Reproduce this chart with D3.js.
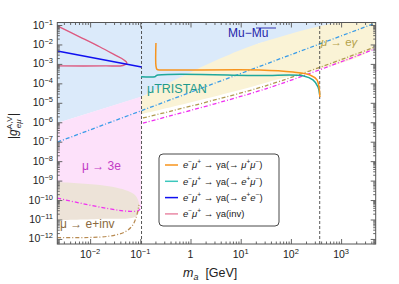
<!DOCTYPE html>
<html>
<head>
<meta charset="utf-8">
<script src="https://cdn.jsdelivr.net/npm/d3@7"></script>
<style>
body { margin: 0; background: #fff; }
text { font-family: "Liberation Sans", Arial, sans-serif; }
</style>
</head>
<body>
<div id="chart"></div>
<script>
// axis extents and ticks
const xDomain = [0.00222, 4890];
const yDomain = [5.5e-13, 0.1345];
const xMajor = [0.01, 0.1, 1, 10, 100, 1000];
const xLabels = [["10", "\u22122"], ["10", "\u22121"], ["1", ""], ["10", "1"], ["10", "2"], ["10", "3"]];
const yMajor = [1e-1, 1e-2, 1e-3, 1e-4, 1e-5, 1e-6, 1e-7, 1e-8, 1e-9, 1e-10, 1e-11, 1e-12];

// excluded regions (mass GeV, coupling)
const muMuBarEdge = [[0.00222, 9.1e-7], [0.103, 2.0e-5], [24, 0.0119], [4890, 0.14]];
const mu3eTop = [[0.00222, 9.1e-7], [0.1057, 2.1e-5]];
const mu3eBottom = [[0.00222, 1.27e-10], [0.09, 2.8e-11], [0.1057, 5.5e-11]];
const invTop = [[0.00222, 8.5e-10], [0.0157, 5.9e-10], [0.0496, 3.3e-10], [0.0784, 1.8e-10], [0.094, 7.1e-11]];
const invBottom = [[0.094, 2.4e-11], [0.0784, 1.35e-11], [0.0157, 1.07e-11], [0.00222, 9.4e-12]];
const megTop = [[0.1057, 2.0e-5], [24, 0.0119], [4890, 0.14]];
const megBottom = [[4890, 0.0085], [30.5, 1.04e-4], [0.1057, 2.6e-6]];

// bound lines
const cyanLine = [[0.00222, 9.5e-8], [4890, 0.127]];
const mu3eLine = [[0.00222, 1.27e-10], [0.09, 2.8e-11], [0.1057, 5.5e-11]];
const megMagenta = [[0.113, 9.1e-7], [30.5, 5.1e-5], [4730, 5.9e-3]];
const invLineLow = [[0.00222, 1.17e-12], [0.0157, 1.25e-12], [0.0313, 1.58e-12], [0.0496, 2.3e-12], [0.0684, 4.6e-12], [0.082, 1.2e-11], [0.094, 5.6e-11]];
const invLineHigh = [[0.113, 1.66e-6], [30.5, 7.3e-5], [4730, 7.4e-3]];
const vLines = [0.1057, 375];

// signal curves
const mumuCurve = [[0.205, 0.0119], [0.205, 8e-4], [0.215, 5.2e-4], [0.26, 4.9e-4], [24, 4.9e-4], [110, 3.8e-4], [240, 2.7e-4], [331, 1.5e-4], [365, 6e-5], [378, 2e-5]];
const eeMuCurve = [[0.103, 2.2e-4], [0.196, 2.2e-4], [0.215, 2.6e-4], [24, 2.5e-4], [180, 2.4e-4], [275, 1.5e-4], [347, 6.5e-5], [375, 2.5e-5]];
const eeCurve = [[0.00222, 4.6e-3], [0.1057, 6.9e-4]];
const invCurve = [[0.00222, 0.089], [0.0063, 0.024], [0.0158, 0.0074], [0.031, 0.0029], [0.0472, 1.6e-3], [0.054, 1.12e-3], [0.045, 8.3e-4], [0.02, 7.9e-4], [0.00222, 7.9e-4]];

const legendNames = [
  ["\u03bc", "+", "\u03bc", "\u2212"],
  ["e", "+", "\u03bc", "\u2212"],
  ["e", "+", "e", "\u2212"],
  null
];
const legendColors = ["#f7941d", "#3cc7bd", "#1010f0", "#e98aa6"];

const svg = d3.select("#chart").append("svg").attr("width", 399).attr("height", 284);

const x = d3.scaleLog().domain(xDomain).range([57.3, 375.7]);
const y = d3.scaleLog().domain(yDomain).range([244, 22.5]);

const line = d3.line().x(d => x(d[0])).y(d => y(d[1]));
const smooth = d3.line().x(d => x(d[0])).y(d => y(d[1])).curve(d3.curveCatmullRom.alpha(0.5));

svg.append("defs").append("clipPath").attr("id", "clip")
  .append("rect").attr("x", 57.3).attr("y", 22.5).attr("width", 318.4).attr("height", 221.5);
const plot = svg.append("g").attr("clip-path", "url(#clip)");

// regions
const topL = [xDomain[0], yDomain[1] * 2], topR = [xDomain[1] * 2, yDomain[1] * 2];
plot.append("path").attr("d", line([topL, topR, [xDomain[1] * 2, 0.14], ...muMuBarEdge.slice().reverse()]))
  .attr("fill", "#dbeafa");
plot.append("path").attr("d", line([...mu3eTop, ...mu3eBottom.slice().reverse()]))
  .attr("fill", "#fde1fa");
plot.append("path").attr("d", smooth([...invTop, ...invBottom]) + "Z")
  .attr("fill", "#ede3d8");
plot.append("path").attr("d", smooth([...megTop, ...megBottom]) + "Z")
  .attr("fill", "#faf3d6");

// dashed bounds
plot.append("path").attr("d", line(cyanLine)).attr("fill", "none")
  .attr("stroke", "#3a9ce8").attr("stroke-width", 1.3).attr("stroke-dasharray", "4,2,1,2");
plot.append("path").attr("d", smooth(mu3eLine)).attr("fill", "none")
  .attr("stroke", "#f030f0").attr("stroke-width", 1.3).attr("stroke-dasharray", "4,2,1,2");
plot.append("path").attr("d", smooth(megMagenta)).attr("fill", "none")
  .attr("stroke", "#f030f0").attr("stroke-width", 1.3).attr("stroke-dasharray", "4,2,1,2");
plot.append("path").attr("d", smooth(invLineLow)).attr("fill", "none")
  .attr("stroke", "#b88a50").attr("stroke-width", 1.2).attr("stroke-dasharray", "4,2,1,2");
plot.append("path").attr("d", smooth(invLineHigh)).attr("fill", "none")
  .attr("stroke", "#b09a50").attr("stroke-width", 1.3).attr("stroke-dasharray", "4,2,1,2");

vLines.forEach(v => {
  plot.append("line").attr("x1", x(v)).attr("x2", x(v)).attr("y1", y(yDomain[0])).attr("y2", y(yDomain[1]))
    .attr("stroke", "#444").attr("stroke-width", 0.9).attr("stroke-dasharray", "3,2");
});

// signal curves
plot.append("path").attr("d", smooth(invCurve)).attr("fill", "none").attr("stroke", "#dd5a80").attr("stroke-width", 1.4);
plot.append("path").attr("d", line(eeCurve)).attr("fill", "none").attr("stroke", "#1010f0").attr("stroke-width", 1.5);
plot.append("path").attr("d", smooth(eeMuCurve)).attr("fill", "none").attr("stroke", "#1fa89c").attr("stroke-width", 1.5);
plot.append("path").attr("d", smooth(mumuCurve)).attr("fill", "none").attr("stroke", "#f7941d").attr("stroke-width", 1.5);

// region labels
const lab = (tx, ty, size, color) => svg.append("text").attr("x", tx).attr("y", ty)
  .attr("font-size", size).attr("fill", color);
const mm = lab(228, 37, 12, "#2323a8");
mm.append("tspan").text("Mu\u2212");
const bar = mm.append("tspan").text("Mu");
svg.append("line").attr("x1", 256).attr("x2", 276).attr("y1", 28).attr("y2", 28).attr("stroke", "#2323a8").attr("stroke-width", 0.9);
lab(147, 93, 12.5, "#1e9a8c").text("\u03bcTRISTAN");
const meg = lab(321, 46, 11.5, "#b5a24a");
meg.append("tspan").text("\u03bc").attr("font-style", "italic");
meg.append("tspan").text(" \u2192 e");
meg.append("tspan").text("\u03b3").attr("font-style", "italic");
lab(82, 170, 12, "#c23cc6").text("\u03bc \u2192 3e");
lab(60, 228, 12, "#8a6a40").text("\u03bc \u2192 e+inv");

// axes frame and ticks
const minorX = [], minorY = [];
for (let e = -3; e <= 3; e++) for (let k = 2; k <= 9; k++) {
  const v = k * Math.pow(10, e);
  if (v > xDomain[0] && v < xDomain[1]) minorX.push(v);
}
for (let e = -13; e <= -1; e++) for (let k = 2; k <= 9; k++) {
  const v = k * Math.pow(10, e);
  if (v > yDomain[0] && v < yDomain[1]) minorY.push(v);
}
const axisColor = "#666";
const addAxis = (axis, tr) => {
  const g = svg.append("g").attr("transform", tr).call(axis);
  g.select(".domain").remove();
  g.selectAll("line").attr("stroke", axisColor);
  g.selectAll("text").remove();
};
addAxis(d3.axisBottom(x).tickValues(xMajor).tickSize(-5), "translate(0,244)");
addAxis(d3.axisBottom(x).tickValues(minorX).tickSize(-2.5), "translate(0,244)");
addAxis(d3.axisTop(x).tickValues(xMajor).tickSize(-5), "translate(0,22.5)");
addAxis(d3.axisTop(x).tickValues(minorX).tickSize(-2.5), "translate(0,22.5)");
addAxis(d3.axisLeft(y).tickValues(yMajor).tickSize(-5), "translate(57.3,0)");
addAxis(d3.axisLeft(y).tickValues(minorY).tickSize(-2.5), "translate(57.3,0)");
addAxis(d3.axisRight(y).tickValues(yMajor).tickSize(-5), "translate(375.7,0)");
addAxis(d3.axisRight(y).tickValues(minorY).tickSize(-2.5), "translate(375.7,0)");
svg.append("rect").attr("x", 57.3).attr("y", 22.5).attr("width", 318.4).attr("height", 221.5)
  .attr("fill", "none").attr("stroke", "#555").attr("stroke-width", 1);

// tick labels
xMajor.forEach((v, i) => {
  const t = svg.append("text").attr("x", x(v)).attr("y", 258).attr("text-anchor", "middle")
    .attr("font-size", 10.5).attr("fill", "#222");
  t.append("tspan").text(xLabels[i][0]);
  if (xLabels[i][1]) t.append("tspan").attr("dy", -4).attr("font-size", 7.5).text(xLabels[i][1]);
});
yMajor.forEach(v => {
  const t = svg.append("text").attr("x", 53).attr("y", y(v) + 3.5).attr("text-anchor", "end")
    .attr("font-size", 10.5).attr("fill", "#222");
  t.append("tspan").text("10");
  t.append("tspan").attr("dy", -4).attr("font-size", 7.5).text("\u2212" + Math.round(-Math.log10(v)));
});

// axis titles
const xt = svg.append("text").attr("x", 183).attr("y", 277).attr("font-size", 12.5).attr("fill", "#222");
xt.append("tspan").text("m").attr("font-style", "italic");
xt.append("tspan").text("a").attr("font-style", "italic").attr("font-size", 9).attr("dy", 3);
xt.append("tspan").text("  [GeV]").attr("dy", -3).attr("xml:space", "preserve");

const yt = svg.append("text").attr("transform", "translate(17,126) rotate(-90)")
  .attr("text-anchor", "middle").attr("font-size", 12).attr("fill", "#222");
yt.append("tspan").text("|");
yt.append("tspan").text("g").attr("font-style", "italic");
yt.append("tspan").text("A,V").attr("font-size", 8).attr("dy", -5);
yt.append("tspan").text("e\u03bc").attr("font-size", 8).attr("font-style", "italic").attr("dx", -12).attr("dy", 9);
yt.append("tspan").text(" |").attr("dy", -4);

// legend
const lg = svg.append("g");
lg.append("rect").attr("x", 159).attr("y", 154).attr("width", 120).attr("height", 72).attr("rx", 4)
  .attr("fill", "#fff").attr("stroke", "#333").attr("stroke-width", 0.9);
legendColors.forEach((c, i) => {
  const ly = 165 + i * 16.3;
  lg.append("line").attr("x1", 165).attr("x2", 178).attr("y1", ly).attr("y2", ly).attr("stroke", c).attr("stroke-width", 1.5);
  const t = lg.append("text").attr("x", 183).attr("y", ly + 3.2).attr("font-size", 9.5).attr("fill", "#222");
  t.append("tspan").text("e").attr("font-style", "italic");
  t.append("tspan").text("\u2212").attr("font-size", 6.5).attr("dy", -3.8);
  t.append("tspan").text("\u03bc").attr("font-style", "italic").attr("dy", 3.8);
  t.append("tspan").text("+").attr("font-size", 6.5).attr("dy", -3.8);
  const p = legendNames[i];
  if (p) {
    t.append("tspan").text(" \u2192 \u03b3a(\u2192 ").attr("dy", 3.8);
    t.append("tspan").text(p[0]).attr("font-style", "italic");
    t.append("tspan").text(p[1]).attr("font-size", 6.5).attr("dy", -3.8);
    t.append("tspan").text(p[2]).attr("font-style", "italic").attr("dy", 3.8);
    t.append("tspan").text(p[3]).attr("font-size", 6.5).attr("dy", -3.8);
    t.append("tspan").text(")").attr("dy", 3.8);
  } else {
    t.append("tspan").text(" \u2192 \u03b3a(inv)").attr("dy", 3.8);
  }
});
</script>
</body>
</html>
